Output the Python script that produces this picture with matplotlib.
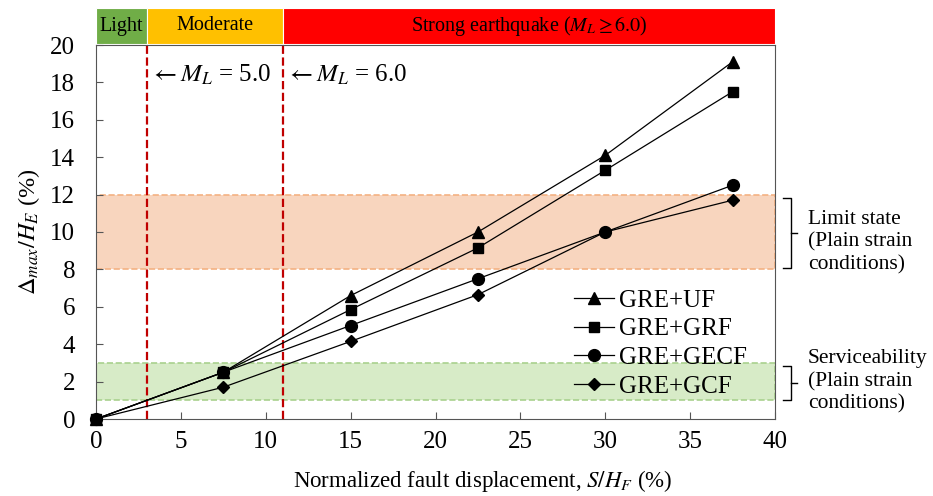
import matplotlib
matplotlib.use("Agg")
import matplotlib.pyplot as plt
from matplotlib.lines import Line2D

plt.rcParams['font.family'] = ['Liberation Serif', 'DejaVu Serif']
plt.rcParams['mathtext.fontset'] = 'stix'

x = [0, 7.5, 15, 22.5, 30, 37.5]
series = {
    "GRE+UF":   [0, 2.5, 6.6, 10.0, 14.1, 19.1],
    "GRE+GRF":  [0, 2.5, 5.85, 9.15, 13.3, 17.5],
    "GRE+GECF": [0, 2.5, 5.0, 7.5, 10.0, 12.5],
    "GRE+GCF":  [0, 1.7, 4.15, 6.65, 10.0, 11.7],
}
markers = {"GRE+UF": "^", "GRE+GRF": "s", "GRE+GECF": "o", "GRE+GCF": "D"}
msizes = {"GRE+UF": 8.5, "GRE+GRF": 7, "GRE+GECF": 8.5, "GRE+GCF": 6}

xticks = [0, 5, 10, 15, 20, 25, 30, 35, 40]
yticks = [0, 2, 4, 6, 8, 10, 12, 14, 16, 18, 20]

limit_band = (8, 12)
service_band = (1, 3)
ml_lines = [3, 11]
zones = [("Light", 0, 3, "#70AD47"), ("Moderate", 3, 11, "#FFC000"),
         ("Strong earthquake ($M_L \\geq 6.0$)", 11, 40, "#FF0000")]

fig = plt.figure(figsize=(9.33, 4.96), dpi=100)
ax = fig.add_axes([96/933, 1-419/496, (775-96)/933, (419-45)/496])

ax.axhspan(*limit_band, facecolor="#F8D5BE", edgecolor="#F4B183", ls="--", lw=1.2, zorder=0)
ax.axhspan(*service_band, facecolor="#D7EBC7", edgecolor="#A9D18E", ls="--", lw=1.2, zorder=0)

for v in ml_lines:
    ax.axvline(v, color="#C00000", ls="--", lw=1.6, zorder=1)

for name, ys in series.items():
    ax.plot(x, ys, color="black", lw=0.9, marker=markers[name], ms=msizes[name],
            label=name, zorder=3, clip_on=False)

ax.set_xlim(0, 40)
ax.set_ylim(0, 20)
ax.set_xticks(xticks)
ax.set_yticks(yticks)
ax.tick_params(direction="in", labelsize=18, length=5, color="#555555")
ax.tick_params(axis="x", pad=9)
ax.tick_params(axis="y", pad=15)
for s in ax.spines.values():
    s.set_color("#555555")
ax.set_xlabel("Normalized fault displacement, $S/H_F$ (%)", fontsize=16.5)
ax.xaxis.set_label_coords(0.57, -0.13)
ax.set_ylabel("$\\Delta_{max}/H_E$ (%)", fontsize=17.5)
ax.yaxis.set_label_coords(-0.08, 0.5)

ax.text(3.2, 18.4, "$\\leftarrow M_L$ = 5.0", fontsize=18, va="center")
ax.text(11.2, 18.4, "$\\leftarrow M_L$ = 6.0", fontsize=18, va="center")

leg = ax.legend(loc="lower right", bbox_to_anchor=(0.982, 0.013), frameon=False, fontsize=18,
                handlelength=1.6, labelspacing=0.25, handletextpad=0.2, borderaxespad=0.25)

# brackets
def bracket(y0, y1):
    xa, xb, xc = 40.45, 40.95, 41.3
    kw = dict(color="black", lw=1.0, clip_on=False, transform=ax.transData)
    ax.add_line(Line2D([xa, xb, xb, xa], [y1, y1, y0, y0], **kw))
    ym = (y0 + y1) / 2
    ax.add_line(Line2D([xb, xc], [ym, ym], **kw))

bracket(8.1, 11.8)
bracket(1.0, 2.85)
ax.text(41.95, 9.45, "Limit state\n(Plain strain\nconditions)", fontsize=15.5, va="center",
        ha="left", linespacing=1.25)
ax.text(41.95, 2.0, "Serviceability\n(Plain strain\nconditions)", fontsize=15.5, va="center",
        ha="left", linespacing=1.25)

# top zone band
bax = fig.add_axes([96/933, 1-44/496, (775-96)/933, 36/496])
bax.set_xlim(0, 40)
bax.set_ylim(0, 1)
bax.axis("off")
for label, a, b, c in zones:
    bax.axvspan(a, b, color=c, ec="white", lw=0.8)
    bax.text((a + b) / 2, 0.5, label, ha="center", va="center", fontsize=14.5)

fig.savefig("out.png", dpi=100)
